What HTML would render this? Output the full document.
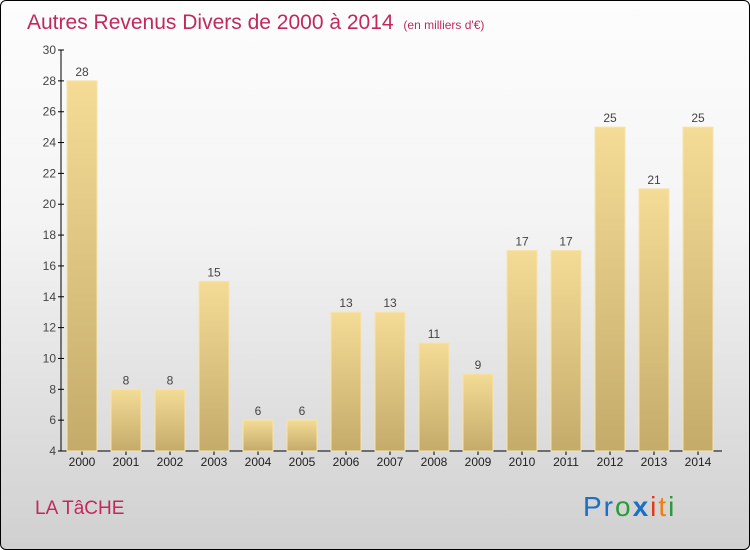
<!DOCTYPE html>
<html><head><meta charset="utf-8"><style>
html,body{margin:0;padding:0}
body{width:750px;height:550px;overflow:hidden;font-family:"Liberation Sans",sans-serif}
#frame{position:absolute;left:0;top:0;width:748px;height:548px;border:1px solid #000;border-radius:6px;background:linear-gradient(#fdfdfd,#f4f4f4 40%,#d0d0d0);overflow:hidden}
</style></head><body>
<div id="frame">
<svg id="chart" width="750" height="550" style="position:absolute;left:-1px;top:-1px">
<defs><linearGradient id="bg" x1="0" y1="0" x2="0" y2="1"><stop offset="0" stop-color="#f4dc96"/><stop offset="1" stop-color="#c4ab6a"/></linearGradient></defs>
<text x="27" y="29" font-size="21" fill="#c2295a">Autres Revenus Divers de 2000 à 2014 <tspan font-size="12" dx="4">(en milliers d'€)</tspan></text>
<g id="axes"></g><g id="bars"></g>
<text x="35" y="514" font-size="19" fill="#c2295a">LA TâCHE</text>
<text x="583" y="516" font-size="28" letter-spacing="2"><tspan fill="#1a6fc8">Pr</tspan><tspan fill="#2a9a3a">o</tspan><tspan fill="#1a6fc8" font-weight="bold">x</tspan><tspan fill="#e03a1a">i</tspan><tspan fill="#f07f10">t</tspan><tspan fill="#2a9a3a">i</tspan></text>
</svg></div>
<script>
const years=["2000","2001","2002","2003","2004","2005","2006","2007","2008","2009","2010","2011","2012","2013","2014"];
const values=[28,8,8,15,6,6,13,13,11,9,17,17,25,21,25];
const yTicks=[4,6,8,10,12,14,16,18,20,22,24,26,28,30];
const NS="http://www.w3.org/2000/svg";
const yMin=4,yMax=30,yTop=50,yBot=451;
function y(v){return yBot-(v-yMin)/(yMax-yMin)*(yBot-yTop);}
function x(i){return 82+i*44;}
function mk(t,a,p){const e=document.createElementNS(NS,t);for(const k in a)e.setAttribute(k,a[k]);p.appendChild(e);return e;}
const ax=document.getElementById('axes'),bg=document.getElementById('bars');
const yl=mk('line',{x1:61,y1:yTop,x2:61,y2:yBot,stroke:'#000'},ax);


const xl=mk('line',{x1:61,y1:yBot,x2:722,y2:yBot,stroke:'#000'},ax);


yTicks.forEach(v=>{
 mk('line',{x1:58,y1:y(v),x2:64,y2:y(v),stroke:'#000'},ax);
 const t=mk('text',{x:56,y:y(v)+4,'font-size':12,'text-anchor':'end',fill:'#444'},ax);t.textContent=v;
 
 
});
years.forEach((yr,i)=>{
 const v=values[i];
 const r=mk('rect',{x:x(i)-15,y:y(v),width:30,height:yBot-y(v),fill:'url(#bg)',stroke:'#f6e4ac','stroke-width':1},bg);
 
 
 const lb=mk('text',{x:x(i),y:y(v)-5,'font-size':12,'text-anchor':'middle',fill:'#444'},bg);lb.textContent=v;
 
 
 mk('line',{x1:x(i),y1:yBot,x2:x(i),y2:yBot+4,stroke:'#000'},ax);
 const xt=mk('text',{x:x(i),y:466,'font-size':12,'text-anchor':'middle',fill:'#222'},ax);xt.textContent=yr;
 
 
});
</script>
</body></html>
